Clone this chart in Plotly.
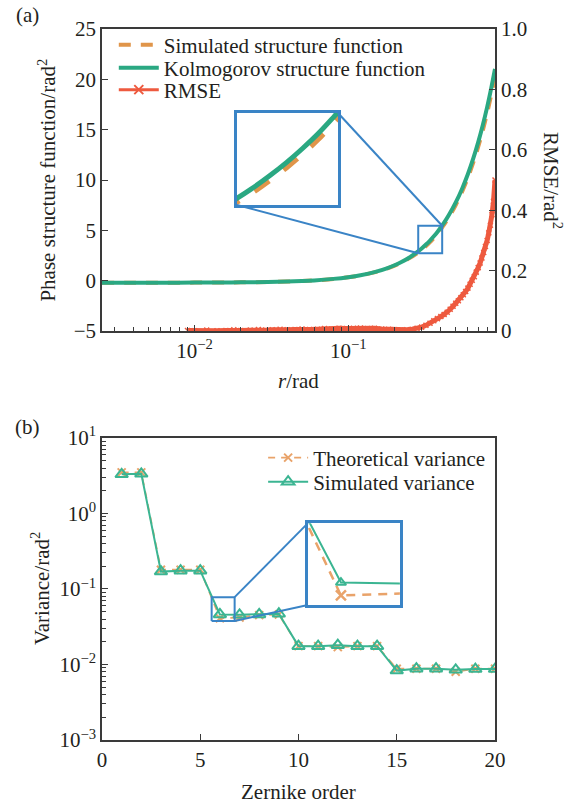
import math
import plotly.graph_objects as go

# ---------------- data: panel (a) ----------------
r_vals = [0.0025, 0.004, 0.006, 0.01, 0.015, 0.02, 0.03, 0.04, 0.05, 0.06,
          0.08, 0.1, 0.12, 0.15, 0.18, 0.2, 0.22, 0.25, 0.28, 0.3,
          0.32, 0.34, 0.36, 0.38, 0.4, 0.42, 0.45, 0.5, 0.55, 0.6,
          0.65, 0.7, 0.75, 0.8, 0.85, 0.9]
kolmogorov = [-0.2, -0.2, -0.2, -0.19, -0.18, -0.16, -0.13, -0.08, -0.03, 0.03,
              0.18, 0.35, 0.54, 0.87, 1.25, 1.53, 1.83, 2.31, 2.83, 3.20,
              3.59, 3.99, 4.41, 4.84, 5.30, 5.76, 6.49, 7.77, 9.14, 10.60,
              12.14, 13.76, 15.46, 17.24, 19.10, 21.03]
simulated = [-0.2, -0.2, -0.2, -0.19, -0.18, -0.16, -0.13, -0.08, -0.03, 0.03,
             0.17, 0.34, 0.53, 0.85, 1.22, 1.49, 1.78, 2.24, 2.72, 3.06,
             3.44, 3.83, 4.24, 4.66, 5.12, 5.57, 6.28, 7.52, 8.85, 10.25,
             11.75, 13.3, 14.95, 16.65, 18.45, 20.3]
r_rmse = [0.009, 0.010, 0.012, 0.014, 0.016, 0.018, 0.020, 0.023, 0.026, 0.029,
          0.032, 0.036, 0.040, 0.045, 0.050, 0.056, 0.063, 0.070, 0.078, 0.087,
          0.097, 0.108, 0.12, 0.133, 0.148, 0.165, 0.183, 0.20, 0.22, 0.24,
          0.26, 0.28, 0.30, 0.32, 0.34, 0.36, 0.38, 0.40, 0.42, 0.44,
          0.46, 0.48, 0.50, 0.52, 0.54, 0.56, 0.58, 0.60, 0.62, 0.64,
          0.66, 0.68, 0.70, 0.72, 0.74, 0.76, 0.78, 0.80, 0.82, 0.84,
          0.86, 0.88, 0.90]
rmse = [0.002, 0.001, 0.003, 0.001, 0.002, 0.004, 0.002, 0.003, 0.005, 0.003,
        0.004, 0.006, 0.004, 0.005, 0.007, 0.005, 0.006, 0.008, 0.007, 0.009,
        0.008, 0.009, 0.010, 0.008, 0.009, 0.007, 0.006, 0.004, 0.003, 0.004,
        0.006, 0.009, 0.013, 0.019, 0.026, 0.034, 0.041, 0.048, 0.055, 0.062,
        0.072, 0.082, 0.092, 0.100, 0.110, 0.120, 0.131, 0.142, 0.155, 0.168,
        0.180, 0.195, 0.210, 0.225, 0.242, 0.260, 0.280, 0.300, 0.325, 0.350,
        0.385, 0.430, 0.500]

# ---------------- data: panel (b) ----------------
zernike_order = [1, 2, 3, 4, 5, 6, 7, 8, 9, 10, 11, 12, 13, 14, 15, 16, 17, 18, 19, 20]
theoretical_var = [3.5, 3.5, 0.18, 0.18, 0.18, 0.041, 0.042, 0.045, 0.046, 0.0175,
                   0.0175, 0.017, 0.0175, 0.0175, 0.0088, 0.0088, 0.0088, 0.008, 0.0088, 0.0088]
simulated_var = [3.3, 3.35, 0.17, 0.175, 0.175, 0.046, 0.0455, 0.046, 0.047, 0.0175,
                 0.0175, 0.018, 0.0175, 0.0175, 0.0083, 0.0088, 0.0088, 0.0085, 0.0087, 0.0087]

# ---------------- styling ----------------
FONT = "Liberation Serif"
FS = 21
TXT = "#231f20"
AX = "#3a3a3a"
GREEN = "#2aa882"
ORANGE = "#e0954a"
RED = "#ee5a3f"
BLUE = "#3a84c6"
GREEN_B = "#3bb592"
ORANGE_B = "#e9a36a"

# ranges / domains
xa_rng = [math.log10(0.0025), math.log10(0.9)]
ya_rng = [-5, 25]
dom_a = [0.5752, 1.0]
dom_b = [0.0, 0.4248]
xb_rng = [0, 20]
yb_rng = [-3, 1]

# inset (a)
ins_a_x = [0.285, 0.408]
ins_a_y = [2.72, 5.46]
ins_a_domx = [0.3435, 0.6005]
ins_a_domy = [0.7525, 0.8819]
# inset (b)
ins_b_x = [5.58, 6.75]
ins_b_y = [0.0377, 0.078]
ins_b_domx = [0.524, 0.758]
ins_b_domy = [0.190, 0.305]


def px_log(v, rng, dom):
    return dom[0] + (math.log10(v) - rng[0]) / (rng[1] - rng[0]) * (dom[1] - dom[0])


def px_lin(v, rng, dom):
    return dom[0] + (v - rng[0]) / (rng[1] - rng[0]) * (dom[1] - dom[0])


fig = go.Figure()

# ---- panel (a) main ----
fig.add_trace(go.Scatter(x=r_vals, y=simulated, mode="lines", name="Simulated structure function",
                         line=dict(color=ORANGE, width=4, dash="12px,10px", shape="spline"),
                         xaxis="x", yaxis="y", legend="legend"))
fig.add_trace(go.Scatter(x=r_vals, y=kolmogorov, mode="lines", name="Kolmogorov structure function",
                         line=dict(color=GREEN, width=4, shape="spline"),
                         xaxis="x", yaxis="y", legend="legend3"))
fig.add_trace(go.Scatter(x=r_rmse, y=rmse, mode="lines+markers", name="RMSE", showlegend=False,
                         line=dict(color=RED, width=5),
                         marker=dict(symbol="x-thin-open", size=5, color=RED, line=dict(color=RED, width=1.5)),
                         xaxis="x", yaxis="y2", cliponaxis=True))
# legend entry for RMSE (line with a visible cross)
fig.add_trace(go.Scatter(x=[None], y=[None], mode="lines+markers", name="RMSE",
                         line=dict(color=RED, width=3),
                         marker=dict(symbol="x-thin-open", size=9, color=RED, line=dict(color=RED, width=2)),
                         xaxis="x", yaxis="y2", legend="legend4"))

# small box on panel (a)
fig.add_trace(go.Scatter(x=[ins_a_x[0], ins_a_x[1], ins_a_x[1], ins_a_x[0], ins_a_x[0]],
                         y=[ins_a_y[0], ins_a_y[0], ins_a_y[1], ins_a_y[1], ins_a_y[0]],
                         mode="lines", line=dict(color=BLUE, width=2), showlegend=False,
                         hoverinfo="skip", xaxis="x", yaxis="y"))

# inset (a)
fig.add_trace(go.Scatter(x=r_vals, y=simulated, mode="lines", showlegend=False,
                         line=dict(color=ORANGE, width=5, dash="18px,18px", shape="spline"),
                         xaxis="x3", yaxis="y4"))
fig.add_trace(go.Scatter(x=r_vals, y=kolmogorov, mode="lines", showlegend=False,
                         line=dict(color=GREEN, width=5, shape="spline"),
                         xaxis="x3", yaxis="y4"))

# ---- panel (b) ----
fig.add_trace(go.Scatter(x=zernike_order, y=theoretical_var, mode="lines+markers", name="Theoretical variance",
                         line=dict(color=ORANGE_B, width=1.8, dash="7px,6px"),
                         marker=dict(symbol="x-thin-open", size=8, color=ORANGE_B,
                                     line=dict(color=ORANGE_B, width=2)),
                         xaxis="x2", yaxis="y3", legend="legend2"))
fig.add_trace(go.Scatter(x=zernike_order, y=simulated_var, mode="lines+markers", name="Simulated variance",
                         line=dict(color=GREEN_B, width=2),
                         marker=dict(symbol="triangle-up-open", size=11, color=GREEN_B,
                                     line=dict(color=GREEN_B, width=2)),
                         xaxis="x2", yaxis="y3", legend="legend5"))

# small box on panel (b)
fig.add_trace(go.Scatter(x=[ins_b_x[0], ins_b_x[1], ins_b_x[1], ins_b_x[0], ins_b_x[0]],
                         y=[ins_b_y[0], ins_b_y[0], ins_b_y[1], ins_b_y[1], ins_b_y[0]],
                         mode="lines", line=dict(color=BLUE, width=2), showlegend=False,
                         hoverinfo="skip", xaxis="x2", yaxis="y3"))

# inset (b)
fig.add_trace(go.Scatter(x=zernike_order, y=theoretical_var, mode="lines+markers", showlegend=False,
                         line=dict(color=ORANGE_B, width=2.5, dash="9px,7px"),
                         marker=dict(symbol="x-thin-open", size=10, color=ORANGE_B,
                                     line=dict(color=ORANGE_B, width=2.5)),
                         xaxis="x4", yaxis="y5"))
fig.add_trace(go.Scatter(x=zernike_order, y=simulated_var, mode="lines+markers", showlegend=False,
                         line=dict(color=GREEN_B, width=2),
                         marker=dict(symbol="triangle-up-open", size=9, color=GREEN_B,
                                     line=dict(color=GREEN_B, width=2)),
                         xaxis="x4", yaxis="y5"))

# connector lines (paper coordinates computed from axes)
shapes = []
sa_x0 = px_log(ins_a_x[0], xa_rng, [0, 1]); sa_x1 = px_log(ins_a_x[1], xa_rng, [0, 1])
sa_y0 = px_lin(ins_a_y[0], ya_rng, dom_a); sa_y1 = px_lin(ins_a_y[1], ya_rng, dom_a)
shapes.append(dict(type="line", xref="paper", yref="paper", x0=ins_a_domx[1], y0=ins_a_domy[1],
                   x1=sa_x1, y1=sa_y1, line=dict(color=BLUE, width=2)))
shapes.append(dict(type="line", xref="paper", yref="paper", x0=ins_a_domx[0], y0=ins_a_domy[0],
                   x1=sa_x0, y1=sa_y0, line=dict(color=BLUE, width=2)))
sb_x1 = px_lin(ins_b_x[1], xb_rng, [0, 1])
sb_y0 = px_log(ins_b_y[0], yb_rng, dom_b); sb_y1 = px_log(ins_b_y[1], yb_rng, dom_b)
shapes.append(dict(type="line", xref="paper", yref="paper", x0=sb_x1, y0=sb_y1,
                   x1=ins_b_domx[0], y1=ins_b_domy[1], line=dict(color=BLUE, width=2)))
shapes.append(dict(type="line", xref="paper", yref="paper", x0=sb_x1, y0=sb_y0,
                   x1=ins_b_domx[0], y1=ins_b_domy[0], line=dict(color=BLUE, width=2)))

minor_log_a = [k * 10 ** e for e in (-3, -2, -1) for k in range(2, 10) if 0.0025 <= k * 10 ** e <= 0.9]
minor_log_b = [k * 10 ** e for e in (-3, -2, -1, 0) for k in range(2, 10)]

common_ax = dict(showgrid=False, zeroline=False, showline=True, linecolor=AX, linewidth=1.5,
                 tickcolor=AX, tickwidth=1.3, ticks="inside",
                 tickfont=dict(family=FONT, size=FS, color=TXT))

inset_ax = dict(showgrid=False, zeroline=False, showline=True, mirror=True, linecolor=BLUE,
                linewidth=2.5, ticks="", showticklabels=False)


def leg(x, y):
    return dict(x=x, y=y, xanchor="left", yanchor="middle", bgcolor="rgba(0,0,0,0)",
                font=dict(family=FONT, size=FS, color=TXT), itemwidth=40)


fig.update_layout(
    width=571, height=803, autosize=False,
    margin=dict(l=102, r=76, t=29, b=63),
    paper_bgcolor="white", plot_bgcolor="rgba(0,0,0,0)",
    font=dict(family=FONT, size=FS, color=TXT),
    shapes=shapes,
    xaxis=dict(**common_ax, type="log", range=xa_rng, domain=[0, 1], anchor="y", mirror=True,
               tickvals=[0.01, 0.1], ticktext=["10<sup>−2</sup>", "10<sup>−1</sup>"], ticklen=6,
               minor=dict(tickvals=minor_log_a, ticks="inside", ticklen=4, tickcolor=AX, tickwidth=1.2)),
    yaxis=dict(**common_ax, range=ya_rng, domain=dom_a, anchor="x", tickvals=[-5, 0, 5, 10, 15, 20, 25],
               ticktext=["−5", "0", "5", "10", "15", "20", "25"], ticklen=6),
    yaxis2=dict(**common_ax, range=[0, 1], overlaying="y", side="right", anchor="x",
                tickvals=[0, 0.2, 0.4, 0.6, 0.8, 1.0], ticktext=["0", "0.2", "0.4", "0.6", "0.8", "1.0"],
                ticklen=6),
    xaxis2=dict(**common_ax, range=xb_rng, domain=[0, 1], anchor="y3", mirror=True,
                tickvals=[0, 5, 10, 15, 20], ticklen=6),
    yaxis3=dict(**common_ax, type="log", range=yb_rng, domain=dom_b, anchor="x2", mirror=True,
                tickvals=[0.001, 0.01, 0.1, 1, 10],
                ticktext=["10<sup>−3</sup>", "10<sup>−2</sup>", "10<sup>−1</sup>", "10<sup>0</sup>", "10<sup>1</sup>"],
                ticklen=6,
                minor=dict(tickvals=minor_log_b, ticks="inside", ticklen=4, tickcolor=AX, tickwidth=1.2)),
    xaxis3=dict(**inset_ax, type="log", range=[math.log10(ins_a_x[0]), math.log10(ins_a_x[1])],
                domain=ins_a_domx, anchor="y4"),
    yaxis4=dict(**inset_ax, range=ins_a_y, domain=ins_a_domy, anchor="x3"),
    xaxis4=dict(**inset_ax, range=ins_b_x, domain=ins_b_domx, anchor="y5"),
    yaxis5=dict(**inset_ax, type="log", range=[math.log10(ins_b_y[0]), math.log10(ins_b_y[1])],
                domain=ins_b_domy, anchor="x4"),
    legend=leg(0.03, 0.9775),
    legend3=leg(0.03, 0.9451),
    legend4=leg(0.03, 0.9142),
    legend2=leg(0.41, 0.3966),
    legend5=leg(0.41, 0.3629),
    annotations=[
        dict(text="(a)", x=-0.19, y=1.02, xref="paper", yref="paper", showarrow=False,
             xanchor="center", yanchor="middle", font=dict(size=FS)),
        dict(text="(b)", x=-0.19, y=0.44, xref="paper", yref="paper", showarrow=False,
             xanchor="center", yanchor="middle", font=dict(size=FS)),
        dict(text="Phase structure function/rad<sup>2</sup>", textangle=-90, x=-0.141, y=0.7876,
             xref="paper", yref="paper", showarrow=False, xanchor="center", yanchor="middle"),
        dict(text="RMSE/rad<sup>2</sup>", textangle=90, x=1.1476, y=0.7876,
             xref="paper", yref="paper", showarrow=False, xanchor="center", yanchor="middle"),
        dict(text="<i>r</i>/rad", x=0.5, y=0.505, xref="paper", yref="paper", showarrow=False,
             xanchor="center", yanchor="middle"),
        dict(text="Variance/rad<sup>2</sup>", textangle=-90, x=-0.155, y=0.2124,
             xref="paper", yref="paper", showarrow=False, xanchor="center", yanchor="middle"),
        dict(text="Zernike order", x=0.5, y=-0.073, xref="paper", yref="paper", showarrow=False,
             xanchor="center", yanchor="middle"),
    ],
)

fig.write_html("out.html")
